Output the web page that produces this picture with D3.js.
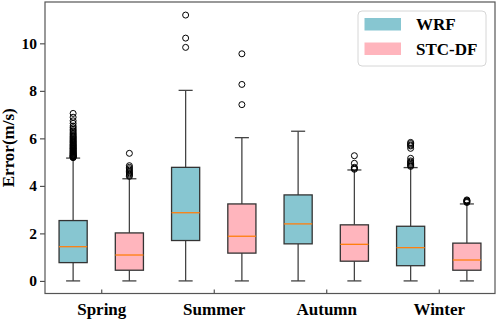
<!DOCTYPE html>
<html>
<head>
<meta charset="utf-8">
<script src="https://cdn.jsdelivr.net/npm/d3@7"></script>
<style>
  html, body { margin: 0; padding: 0; background: #fff; }
  svg text { font-family: "Times New Roman", "Liberation Serif", serif; font-weight: bold; fill: #000; }
</style>
</head>
<body>
<div id="chart"></div>
<script>
// Seasonal wind-speed error boxplots, WRF vs STC-DF

const SEASONS = ["Spring", "Summer", "Autumn", "Winter"];
const SERIES  = ["WRF", "STC-DF"];
const COLORS  = ["#87c6d1", "#ffb5bd"];
const Y_TICKS = [0, 2, 4, 6, 8, 10];

// per season, [WRF, STC-DF]
const WHISK_LO = [[0, 0], [0, 0], [0, 0], [0, 0]];
const Q1       = [[0.77, 0.45], [1.70, 1.17], [1.56, 0.83], [0.64, 0.45]];
const MEDIAN   = [[1.44, 1.09], [2.87, 1.88], [2.40, 1.54], [1.40, 0.88]];
const Q3       = [[2.54, 2.02], [4.78, 3.24], [3.62, 2.36], [2.30, 1.59]];
const WHISK_HI = [[5.17, 4.30], [8.02, 6.03], [6.30, 4.67], [4.77, 3.24]];
const FLIERS   = [
  [[5.19,5.2,5.22,5.24,5.25,5.27,5.29,5.3,5.33,5.35,5.37,5.4,5.42,5.45,5.47,5.5,5.53,5.56,5.58,5.61,5.64,5.67,5.7,5.73,5.76,5.8,5.83,5.87,5.9,5.94,5.98,6.02,6.06,6.1,6.15,6.2,6.26,6.32,6.38,6.45,6.52,6.63,6.74,6.89,7.05],
   [4.4,4.45,4.5,4.55,4.6,4.66,4.72,4.78,4.85,5.37]],
  [[9.83,10.22,11.19], [7.42,8.27,9.56]],
  [[], [4.7,4.74,4.78,4.95,5.27]],
  [[4.82,4.86,4.9,4.95,5.0,5.05,5.16,5.58,5.68,5.72,5.78,5.83], [3.3,3.33,3.36,3.38,3.41]]
];

const W = 498, H = 320;
const margin = { top: 2, right: 3, bottom: 26.5, left: 45 };

const svg = d3.select("#chart").append("svg")
  .attr("width", W)
  .attr("height", H);

const x = d3.scaleLinear().domain([0.5, 8.5]).range([margin.left, W - margin.right]);
const y = d3.scaleLinear().domain([-0.53, 11.74]).range([H - margin.bottom, margin.top]);

// flatten into boxes
const boxes = [];
SEASONS.forEach((s, i) => {
  SERIES.forEach((name, j) => {
    boxes.push({
      pos: i * 2 + j + 1,
      color: COLORS[j],
      lo: WHISK_LO[i][j], q1: Q1[i][j], med: MEDIAN[i][j], q3: Q3[i][j], hi: WHISK_HI[i][j],
      fliers: FLIERS[i][j]
    });
  });
});

const boxW = x(1.25) - x(1);   // half width of box (0.5 units total)
const capW = boxW / 2;

// y axis
svg.append("g")
  .attr("transform", `translate(${margin.left},0)`)
  .call(d3.axisLeft(y).tickValues(Y_TICKS).tickSize(5).tickPadding(3))
  .call(g => g.select(".domain").remove())
  .call(g => g.selectAll("line").attr("stroke", "#444").attr("stroke-width", 1.1))
  .call(g => g.selectAll("text").attr("font-size", 15.5).attr("font-family", null));

// x axis (ticks point in)
svg.append("g")
  .attr("transform", `translate(0,${H - margin.bottom})`)
  .call(d3.axisBottom(x)
    .tickValues(SEASONS.map((d, i) => i * 2 + 1.5))
    .tickFormat((d, i) => SEASONS[i])
    .tickSize(-4).tickPadding(9))
  .call(g => g.select(".domain").remove())
  .call(g => g.selectAll("line").attr("stroke", "#444").attr("stroke-width", 1.1))
  .call(g => g.selectAll("text").attr("font-size", 17).attr("font-family", null));

// axis label
svg.append("text")
  .attr("transform", `translate(14,${(margin.top + H - margin.bottom) / 2}) rotate(-90)`)
  .attr("text-anchor", "middle")
  .attr("font-size", 17)
  .text("Error(m/s)");

const g = svg.append("g");

// whiskers
const bx = g.selectAll(".box").data(boxes).join("g").attr("class", "box");

bx.append("line")
  .attr("x1", d => x(d.pos)).attr("x2", d => x(d.pos))
  .attr("y1", d => y(d.lo)).attr("y2", d => y(d.q1))
  .attr("stroke", "#444").attr("stroke-width", 1.3);
bx.append("line")
  .attr("x1", d => x(d.pos)).attr("x2", d => x(d.pos))
  .attr("y1", d => y(d.q3)).attr("y2", d => y(d.hi))
  .attr("stroke", "#444").attr("stroke-width", 1.3);
bx.append("line")
  .attr("x1", d => x(d.pos) - capW).attr("x2", d => x(d.pos) + capW)
  .attr("y1", d => y(d.lo)).attr("y2", d => y(d.lo))
  .attr("stroke", "#444").attr("stroke-width", 1.3);
bx.append("line")
  .attr("x1", d => x(d.pos) - capW).attr("x2", d => x(d.pos) + capW)
  .attr("y1", d => y(d.hi)).attr("y2", d => y(d.hi))
  .attr("stroke", "#444").attr("stroke-width", 1.3);

// boxes
bx.append("rect")
  .attr("x", d => x(d.pos) - boxW)
  .attr("y", d => y(d.q3))
  .attr("width", boxW * 2)
  .attr("height", d => y(d.q1) - y(d.q3))
  .attr("fill", d => d.color)
  .attr("stroke", "#333")
  .attr("stroke-width", 1.3);

// medians
bx.append("line")
  .attr("x1", d => x(d.pos) - boxW).attr("x2", d => x(d.pos) + boxW)
  .attr("y1", d => y(d.med)).attr("y2", d => y(d.med))
  .attr("stroke", "#ff7f0e").attr("stroke-width", 1.3);

// fliers
bx.selectAll("circle")
  .data(d => d.fliers.map(v => ({ pos: d.pos, v })))
  .join("circle")
  .attr("cx", d => x(d.pos))
  .attr("cy", d => y(d.v))
  .attr("r", 3)
  .attr("fill", "none")
  .attr("stroke", "#000")
  .attr("stroke-width", 1);

// frame
svg.append("rect")
  .attr("x", x(0.5))
  .attr("y", y(11.74))
  .attr("width", x(8.5) - x(0.5))
  .attr("height", y(-0.53) - y(11.74))
  .attr("fill", "none")
  .attr("stroke", "#555")
  .attr("stroke-width", 1.2);

// legend
const lg = svg.append("g").attr("transform", "translate(358,11)");
lg.append("rect")
  .attr("width", 128).attr("height", 55).attr("rx", 4)
  .attr("fill", "#fff").attr("fill-opacity", 0.8)
  .attr("stroke", "#d6d6d6");
SERIES.forEach((name, j) => {
  lg.append("rect")
    .attr("x", 6.5).attr("y", 7 + j * 24.5)
    .attr("width", 36.5).attr("height", 12.5)
    .attr("fill", COLORS[j]);
  lg.append("text")
    .attr("x", 58).attr("y", 19 + j * 24.5)
    .attr("font-size", 17)
    .text(name);
});
</script>
</body>
</html>
